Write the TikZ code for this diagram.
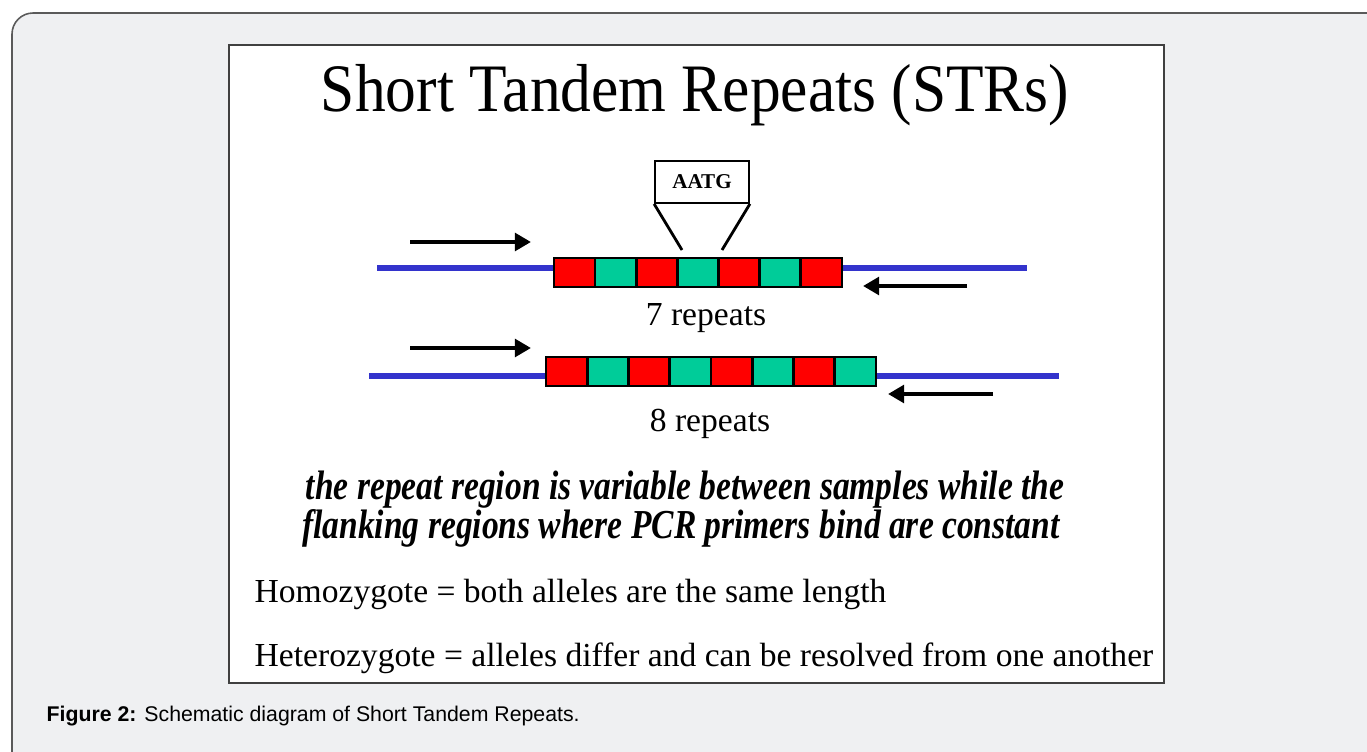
\documentclass[tikz,border=0pt]{standalone}
\usepackage{fontspec}
\setmainfont{Liberation Serif}
\newfontfamily\capfont{Liberation Sans}
\usetikzlibrary{arrows.meta}
\definecolor{panelbg}{HTML}{EFF0F2}
\definecolor{panelrule}{HTML}{5A5A5A}
\definecolor{framerule}{HTML}{404040}
\definecolor{strred}{HTML}{FF0000}
\definecolor{strteal}{HTML}{00CC99}
\definecolor{dnablue}{HTML}{3333CC}
\newcommand{\narrow}[2]{\scalebox{#1}[1]{#2}}
\tikzset{
  cell/.style={draw=black, line width=0.75pt, minimum width=0.412cm, minimum height=0.29cm, inner sep=0pt, outer sep=0pt},
  dna/.style={draw=dnablue, line width=1.45pt},
  primer/.style={draw=black, line width=1.2pt, -{Triangle[length=4.6pt,width=5pt]}},
  motifbox/.style={draw=black, line width=0.5pt, fill=white, minimum width=0.94cm, minimum height=0.42cm, inner sep=0pt, font=\fontsize{6}{7}\selectfont\bfseries},
  body/.style={inner sep=0pt, font=\fontsize{9.55}{11}\selectfont},
  note/.style={inner sep=0pt, font=\fontsize{11.7}{13}\selectfont\bfseries\itshape},
  caption/.style={inner sep=0pt, font=\fontsize{6.05}{7}\selectfont\capfont},
}
\begin{document}
\begin{tikzpicture}[x=0.01cm, y=-0.01cm]
  \useasboundingbox (0,0) rectangle (1367,752);
  \clip (0,0) rectangle (1367,752);
  % page background and rounded figure panel
  \fill[white] (0,0) rectangle (1367,752);
  \draw[panelrule, fill=panelbg, line width=0.45pt, rounded corners=6pt] (12,13) rectangle (1420,800);
  % slide frame
  \draw[framerule, fill=white, line width=0.65pt] (229,45) rectangle (1164,683);

  % title
  \node[inner sep=0pt, anchor=base] (title) at (695,112)
    {\narrow{0.905}{\fontsize{19.3}{22}\selectfont Short Tandem Repeats (STRs)}};

  % allele with 7 repeats
  \coordinate (l1) at (377,268);
  \coordinate (r1) at (1027,268);
  \draw[dna] (l1) -- (r1);
  \foreach \i/\c in {1/strred,2/strteal,3/strred,4/strteal,5/strred,6/strteal,7/strred}
    \node[cell, fill=\c] (a\i) at ({554+41.14*(\i-0.5)},272.5) {};

  % repeat unit callout
  \node[motifbox] (motif) at (702,182) {AATG};
  \coordinate (m1) at (682,250);
  \coordinate (m2) at (722,250);
  \draw[black, line width=0.8pt] (motif.south west) -- (m1);
  \draw[black, line width=0.8pt] (motif.south east) -- (m2);

  % primers for allele 1
  \coordinate (f1s) at (410,242);
  \coordinate (f1e) at (531,242);
  \coordinate (b1s) at (967,286);
  \coordinate (b1e) at (863,286);
  \draw[primer] (f1s) -- (f1e);
  \draw[primer] (b1s) -- (b1e);
  \node[body, anchor=base] (lab7) at (706,326) {7 repeats};

  % allele with 8 repeats
  \coordinate (l2) at (369,376);
  \coordinate (r2) at (1059,376);
  \draw[dna] (l2) -- (r2);
  \foreach \i/\c in {1/strred,2/strteal,3/strred,4/strteal,5/strred,6/strteal,7/strred,8/strteal}
    \node[cell, fill=\c] (b\i) at ({546+41.25*(\i-0.5)},371.5) {};

  % primers for allele 2
  \coordinate (f2s) at (410,348);
  \coordinate (f2e) at (531,348);
  \coordinate (b2s) at (993,394);
  \coordinate (b2e) at (888,394);
  \draw[primer] (f2s) -- (f2e);
  \draw[primer] (b2s) -- (b2e);
  \node[body, anchor=base] (lab8) at (710,432) {8 repeats};

  % explanatory text
  \node[note, anchor=base] (n1) at (685,499) {\narrow{0.815}{the repeat region is variable between samples while the}};
  \node[note, anchor=base] (n2) at (681,538) {\narrow{0.815}{flanking regions where PCR primers bind are constant}};
  \node[body, anchor=base west] (homo) at (254,602) {Homozygote = both alleles are the same length};
  \node[body, anchor=base west] (hetero) at (254,666) {Heterozygote = alleles differ and can be resolved from one another};

  % figure caption
  \node[caption, anchor=base west] (cap) at (46,721) {\textbf{Figure 2:} Schematic diagram of Short Tandem Repeats.};
\end{tikzpicture}
\end{document}
